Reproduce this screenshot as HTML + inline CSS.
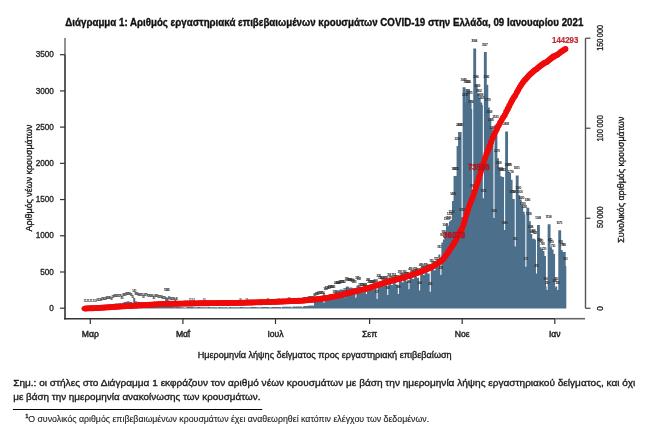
<!DOCTYPE html><html><head><meta charset="utf-8"><style>html,body{margin:0;padding:0;background:#fff}svg{display:block;will-change:transform}text{font-family:"Liberation Sans",sans-serif}</style></head><body><svg width="662" height="435" viewBox="0 0 662 435"><g><rect width="662" height="435" fill="#fff"/><text x="65.3" y="25.5" font-size="10.3" font-weight="bold" fill="#111" textLength="518" lengthAdjust="spacingAndGlyphs" stroke="#111" stroke-width="0.35">Διάγραμμα 1: Αριθμός εργαστηριακά επιβεβαιωμένων κρουσμάτων COVID-19 στην Ελλάδα, 09 Ιανουαρίου 2021</text><path d="M83.14 308.45V308.13h1.97V308.45zM84.66 308.45V308.13h1.97V308.45zM86.18 308.45V308.06h1.97V308.45zM87.7 308.45V308.13h1.97V308.45zM89.22 308.45V308.06h1.97V308.45zM90.73 308.45V308.13h1.97V308.45zM92.25 308.45V307.98h1.97V308.45zM93.77 308.45V307.98h1.97V308.45zM95.29 308.45V308.06h1.97V308.45zM96.81 308.45V307.48h1.97V308.45zM98.32 308.45V307.33h1.97V308.45zM99.84 308.45V307.11h1.97V308.45zM101.36 308.45V306.39h1.97V308.45zM102.88 308.45V306.03h1.97V308.45zM104.4 308.45V306.17h1.97V308.45zM105.91 308.45V305.66h1.97V308.45zM107.43 308.45V305.3h1.97V308.45zM108.95 308.45V304.94h1.97V308.45zM110.47 308.45V306.03h1.97V308.45zM111.99 308.45V304.22h1.97V308.45zM113.5 308.45V303.85h1.97V308.45zM115.02 308.45V303.49h1.97V308.45zM116.54 308.45V303.49h1.97V308.45zM118.06 308.45V303.13h1.97V308.45zM119.58 308.45V303.13h1.97V308.45zM121.09 308.45V304.94h1.97V308.45zM122.61 308.45V302.41h1.97V308.45zM124.13 308.45V302.04h1.97V308.45zM125.65 308.45V301.68h1.97V308.45zM127.17 308.45V301.32h1.97V308.45zM128.68 308.45V301.68h1.97V308.45zM130.2 308.45V302.04h1.97V308.45zM131.72 308.45V304.22h1.97V308.45zM133.24 308.45V298.06h1.97V308.45zM134.76 308.45V301.32h1.97V308.45zM136.27 308.45V301.68h1.97V308.45zM137.79 308.45V302.04h1.97V308.45zM139.31 308.45V302.41h1.97V308.45zM140.83 308.45V302.77h1.97V308.45zM142.35 308.45V304.58h1.97V308.45zM143.86 308.45V302.41h1.97V308.45zM145.38 308.45V302.77h1.97V308.45zM146.9 308.45V303.13h1.97V308.45zM148.42 308.45V303.13h1.97V308.45zM149.94 308.45V303.49h1.97V308.45zM151.45 308.45V303.85h1.97V308.45zM152.97 308.45V305.3h1.97V308.45zM154.49 308.45V303.49h1.97V308.45zM156.01 308.45V303.85h1.97V308.45zM157.53 308.45V304.22h1.97V308.45zM159.04 308.45V304.58h1.97V308.45zM160.56 308.45V304.58h1.97V308.45zM162.08 308.45V304.94h1.97V308.45zM163.6 308.45V305.66h1.97V308.45zM165.12 308.45V297.34h1.97V308.45zM166.63 308.45V297.7h1.97V308.45zM168.15 308.45V305.3h1.97V308.45zM169.67 308.45V306.03h1.97V308.45zM171.19 308.45V306.39h1.97V308.45zM172.71 308.45V306.75h1.97V308.45zM174.22 308.45V307.33h1.97V308.45zM175.74 308.45V306.75h1.97V308.45zM177.26 308.45V306.9h1.97V308.45zM178.78 308.45V307.11h1.97V308.45zM180.3 308.45V307.19h1.97V308.45zM181.81 308.45V307.33h1.97V308.45zM183.33 308.45V307.48h1.97V308.45zM184.85 308.45V307.77h1.97V308.45zM186.37 308.45V307.03h1.97V308.45zM187.89 308.45V307.09h1.97V308.45zM189.4 308.45V307.12h1.97V308.45zM190.92 308.45V307.12h1.97V308.45zM192.44 308.45V307.16h1.97V308.45zM193.96 308.45V307.22h1.97V308.45zM195.48 308.45V307.61h1.97V308.45zM196.99 308.45V307.05h1.97V308.45zM198.51 308.45V307.11h1.97V308.45zM200.03 308.45V307.14h1.97V308.45zM201.55 308.45V307.14h1.97V308.45zM203.07 308.45V307.18h1.97V308.45zM204.58 308.45V307.23h1.97V308.45zM206.1 308.45V307.62h1.97V308.45zM207.62 308.45V307.07h1.97V308.45zM209.14 308.45V307.13h1.97V308.45zM210.66 308.45V307.16h1.97V308.45zM212.17 308.45V307.16h1.97V308.45zM213.69 308.45V307.2h1.97V308.45zM215.21 308.45V307.25h1.97V308.45zM216.73 308.45V307.63h1.97V308.45zM218.25 308.45V307.09h1.97V308.45zM219.76 308.45V307.14h1.97V308.45zM221.28 308.45V307.18h1.97V308.45zM222.8 308.45V307.18h1.97V308.45zM224.32 308.45V307.21h1.97V308.45zM225.84 308.45V307.27h1.97V308.45zM227.35 308.45V307.64h1.97V308.45zM228.87 308.45V307.09h1.97V308.45zM230.39 308.45V307.14h1.97V308.45zM231.91 308.45V307.17h1.97V308.45zM233.43 308.45V307.16h1.97V308.45zM234.94 308.45V307.19h1.97V308.45zM236.46 308.45V307.24h1.97V308.45zM237.98 308.45V307.62h1.97V308.45zM239.5 308.45V307.06h1.97V308.45zM241.02 308.45V307.11h1.97V308.45zM242.53 308.45V307.13h1.97V308.45zM244.05 308.45V307.13h1.97V308.45zM245.57 308.45V307.16h1.97V308.45zM247.09 308.45V307.21h1.97V308.45zM248.61 308.45V307.6h1.97V308.45zM250.12 308.45V307.02h1.97V308.45zM251.64 308.45V307.07h1.97V308.45zM253.16 308.45V307.1h1.97V308.45zM254.68 308.45V307.1h1.97V308.45zM256.2 308.45V307.13h1.97V308.45zM257.71 308.45V307.18h1.97V308.45zM259.23 308.45V307.59h1.97V308.45zM260.75 308.45V306.99h1.97V308.45zM262.27 308.45V307.04h1.97V308.45zM263.79 308.45V307.07h1.97V308.45zM265.3 308.45V307.06h1.97V308.45zM266.82 308.45V307.09h1.97V308.45zM268.34 308.45V307.15h1.97V308.45zM269.86 308.45V307.57h1.97V308.45zM271.38 308.45V306.95h1.97V308.45zM272.89 308.45V307.01h1.97V308.45zM274.41 308.45V307.02h1.97V308.45zM275.93 308.45V306.99h1.97V308.45zM277.45 308.45V307h1.97V308.45zM278.97 308.45V307.04h1.97V308.45zM280.48 308.45V307.49h1.97V308.45zM282 308.45V306.78h1.97V308.45zM283.52 308.45V306.82h1.97V308.45zM285.04 308.45V306.83h1.97V308.45zM286.56 308.45V306.81h1.97V308.45zM288.07 308.45V306.82h1.97V308.45zM289.59 308.45V306.87h1.97V308.45zM291.11 308.45V307.39h1.97V308.45zM292.63 308.45V306.59h1.97V308.45zM294.15 308.45V306.63h1.97V308.45zM295.66 308.45V306.61h1.97V308.45zM297.18 308.45V306.53h1.97V308.45zM298.7 308.45V306.51h1.97V308.45zM300.22 308.45V306.53h1.97V308.45zM301.74 308.45V307.16h1.97V308.45zM303.25 308.45V306.09h1.97V308.45zM304.77 308.45V306.11h1.97V308.45zM306.29 308.45V305.95h1.97V308.45zM307.81 308.45V305.74h1.97V308.45zM309.33 308.45V305.6h1.97V308.45zM310.84 308.45V305.53h1.97V308.45zM312.36 308.45V305.81h1.97V308.45zM313.88 308.45V301.94h1.97V308.45zM315.4 308.45V301.67h1.97V308.45zM316.92 308.45V301.32h1.97V308.45zM318.43 308.45V300.78h1.97V308.45zM319.95 308.45V300.47h1.97V308.45zM321.47 308.45V299.94h1.97V308.45zM322.99 308.45V302.7h1.97V308.45zM324.51 308.45V296.31h1.97V308.45zM326.02 308.45V295.82h1.97V308.45zM327.54 308.45V295.16h1.97V308.45zM329.06 308.45V294.44h1.97V308.45zM330.58 308.45V294.15h1.97V308.45zM332.1 308.45V294.21h1.97V308.45zM333.61 308.45V299.44h1.97V308.45zM335.13 308.45V290.21h1.97V308.45zM336.65 308.45V290.37h1.97V308.45zM338.17 308.45V290.24h1.97V308.45zM339.69 308.45V289.59h1.97V308.45zM341.2 308.45V289.51h1.97V308.45zM342.72 308.45V289.88h1.97V308.45zM344.24 308.45V297.17h1.97V308.45zM345.76 308.45V286.39h1.97V308.45zM347.73 287.26V286.39h0.9V287.26zM347.28 308.45V287.26h1.97V308.45zM348.79 308.45V287.74h1.97V308.45zM350.31 308.45V287.6h1.97V308.45zM351.83 308.45V288.09h1.97V308.45zM353.35 308.45V289h1.97V308.45zM354.87 308.45V297.77h1.97V308.45zM356.38 308.45V285.4h1.97V308.45zM358.35 286.35V285.4h0.9V286.35zM357.9 308.45V286.35h1.97V308.45zM359.87 292.1V286.35h0.9V292.1zM359.42 308.45V292.1h1.97V308.45zM360.94 308.45V292.74h1.97V308.45zM362.46 308.45V292.37h1.97V308.45zM363.97 308.45V292.01h1.97V308.45zM365.49 308.45V294h1.97V308.45zM367.01 308.45V287.28h1.97V308.45zM368.53 308.45V288.92h1.97V308.45zM370.05 308.45V289.43h1.97V308.45zM371.56 308.45V289.88h1.97V308.45zM373.08 308.45V289.34h1.97V308.45zM374.6 308.45V288.79h1.97V308.45zM376.12 308.45V299h1.97V308.45zM377.64 308.45V283.7h1.97V308.45zM379.6 285.15V283.7h0.9V285.15zM379.15 308.45V285.15h1.97V308.45zM381.12 285.6V285.15h0.9V285.6zM380.67 308.45V285.6h1.97V308.45zM382.64 286.06V285.6h0.9V286.06zM382.19 308.45V286.06h1.97V308.45zM383.71 308.45V285.51h1.97V308.45zM385.23 308.45V285.1h1.97V308.45zM386.74 308.45V295.02h1.97V308.45zM388.26 308.45V282.55h1.97V308.45zM390.23 284.98V282.55h0.9V284.98zM389.78 308.45V284.98h1.97V308.45zM391.75 285.61V284.98h0.9V285.61zM391.3 308.45V285.61h1.97V308.45zM392.82 308.45V282.73h1.97V308.45zM394.78 284.86V282.73h0.9V284.86zM394.33 308.45V284.86h1.97V308.45zM395.85 308.45V284.48h1.97V308.45zM397.37 308.45V294h1.97V308.45zM398.89 308.45V279.87h1.97V308.45zM400.86 282.21V279.87h0.9V282.21zM400.41 308.45V282.21h1.97V308.45zM402.37 282.75V282.21h0.9V282.75zM401.92 308.45V282.75h1.97V308.45zM403.44 308.45V279.79h1.97V308.45zM405.41 281.83V279.79h0.9V281.83zM404.96 308.45V281.83h1.97V308.45zM406.48 308.45V281.36h1.97V308.45zM408 308.45V289.37h1.97V308.45zM409.51 308.45V276.64h1.97V308.45zM411.48 278.98V276.64h0.9V278.98zM411.03 308.45V278.98h1.97V308.45zM413 279.45V278.98h0.9V279.45zM412.55 308.45V279.45h1.97V308.45zM414.07 308.45V276.38h1.97V308.45zM416.04 278.3V276.38h0.9V278.3zM415.59 308.45V278.3h1.97V308.45zM417.1 308.45V277.73h1.97V308.45zM418.62 308.45V290.53h1.97V308.45zM420.14 308.45V272.79h1.97V308.45zM422.11 275.02V272.79h0.9V275.02zM421.66 308.45V275.02h1.97V308.45zM423.63 275.44V275.02h0.9V275.44zM423.18 308.45V275.44h1.97V308.45zM424.69 308.45V272.37h1.97V308.45zM426.66 274.22V272.37h0.9V274.22zM426.21 308.45V274.22h1.97V308.45zM427.73 308.45V273.5h1.97V308.45zM429.25 308.45V291.69h1.97V308.45zM430.77 308.45V268.27h1.97V308.45zM432.73 270.35V268.27h0.9V270.35zM432.28 308.45V270.35h1.97V308.45zM434.25 270.44V270.35h0.9V270.44zM433.8 308.45V270.44h1.97V308.45zM435.32 308.45V266.85h1.97V308.45zM437.29 268.27V266.85h0.9V268.27zM436.84 308.45V268.27h1.97V308.45zM438.36 308.45V254.38h1.97V308.45zM439.87 308.45V275.03h1.97V308.45zM441.39 308.45V242.58h1.97V308.45zM442.91 308.45V239.39h1.97V308.45zM444.43 308.45V232.29h1.97V308.45zM445.95 308.45V225.99h1.97V308.45zM447.46 308.45V225.7h1.97V308.45zM448.98 308.45V221.28h1.97V308.45zM450.5 308.45V219.69h1.97V308.45zM452.02 308.45V201h1.97V308.45zM453.54 308.45V176.02h1.97V308.45zM455.05 308.45V176.02h1.97V308.45zM456.57 308.45V146.1h1.97V308.45zM458.09 308.45V131.98h1.97V308.45zM459.61 308.45V131.98h1.97V308.45zM461.13 308.45V217.23h1.97V308.45zM462.64 308.45V87.36h1.97V308.45zM464.61 102.57V87.36h0.9V102.57zM464.16 308.45V102.57h1.97V308.45zM465.68 308.45V89.03h1.97V308.45zM467.2 308.45V89.03h1.97V308.45zM469.17 99.96V89.03h0.9V99.96zM468.72 308.45V99.96h1.97V308.45zM470.68 109.02V99.96h0.9V109.02zM470.23 308.45V109.02h1.97V308.45zM471.75 308.45V193.04h1.97V308.45zM473.27 308.45V48.61h1.97V308.45zM475.24 84.68V48.61h0.9V84.68zM474.79 308.45V84.68h1.97V308.45zM476.76 93.88V84.68h0.9V93.88zM476.31 308.45V93.88h1.97V308.45zM478.27 98.01V93.88h0.9V98.01zM477.82 308.45V98.01h1.97V308.45zM479.79 102.57V98.01h0.9V102.57zM479.34 308.45V102.57h1.97V308.45zM481.31 105.03V102.57h0.9V105.03zM480.86 308.45V105.03h1.97V308.45zM482.38 308.45V198.18h1.97V308.45zM483.9 308.45V52.02h1.97V308.45zM485.86 84.68V52.02h0.9V84.68zM485.41 308.45V84.68h1.97V308.45zM487.38 107.57V84.68h0.9V107.57zM486.93 308.45V107.57h1.97V308.45zM488.9 119.23V107.57h0.9V119.23zM488.45 308.45V119.23h1.97V308.45zM490.42 127.49V119.23h0.9V127.49zM489.97 308.45V127.49h1.97V308.45zM491.94 135.02V127.49h0.9V135.02zM491.49 308.45V135.02h1.97V308.45zM493 308.45V218.02h1.97V308.45zM494.52 308.45V124.73h1.97V308.45zM496.49 158.27V124.73h0.9V158.27zM496.04 308.45V158.27h1.97V308.45zM498.01 170V158.27h0.9V170zM497.56 308.45V170h1.97V308.45zM499.53 176.23V170h0.9V176.23zM499.08 308.45V176.23h1.97V308.45zM501.04 177.03V176.23h0.9V177.03zM500.59 308.45V177.03h1.97V308.45zM502.11 308.45V177.03h1.97V308.45zM503.63 308.45V229.98h1.97V308.45zM505.15 308.45V131.62h1.97V308.45zM507.12 172.1V131.62h0.9V172.1zM506.67 308.45V172.1h1.97V308.45zM508.63 172.76V172.1h0.9V172.76zM508.18 308.45V172.76h1.97V308.45zM510.15 179.71V172.76h0.9V179.71zM509.7 308.45V179.71h1.97V308.45zM511.67 198.98V179.71h0.9V198.98zM511.22 308.45V198.98h1.97V308.45zM512.74 308.45V198.98h1.97V308.45zM514.26 308.45V246.42h1.97V308.45zM515.77 308.45V175.58h1.97V308.45zM517.74 195.21V175.58h0.9V195.21zM517.29 308.45V195.21h1.97V308.45zM519.26 199.56V195.21h0.9V199.56zM518.81 308.45V199.56h1.97V308.45zM520.78 205.35V199.56h0.9V205.35zM520.33 308.45V205.35h1.97V308.45zM522.3 211.87V205.35h0.9V211.87zM521.85 308.45V211.87h1.97V308.45zM523.81 214.69V211.87h0.9V214.69zM523.36 308.45V214.69h1.97V308.45zM524.88 308.45V266.7h1.97V308.45zM526.4 308.45V207.81h1.97V308.45zM528.37 221.28V207.81h0.9V221.28zM527.92 308.45V221.28h1.97V308.45zM529.89 234.03V221.28h0.9V234.03zM529.44 308.45V234.03h1.97V308.45zM531.4 239.54V234.03h0.9V239.54zM530.95 308.45V239.54h1.97V308.45zM532.47 308.45V238.81h1.97V308.45zM534.44 239.97V238.81h0.9V239.97zM533.99 308.45V239.97h1.97V308.45zM535.51 308.45V273.58h1.97V308.45zM537.03 308.45V224.98h1.97V308.45zM538.99 247.36V224.98h0.9V247.36zM538.54 308.45V247.36h1.97V308.45zM540.51 248.81V247.36h0.9V248.81zM540.06 308.45V248.81h1.97V308.45zM542.03 250.98V248.81h0.9V250.98zM541.58 308.45V250.98h1.97V308.45zM543.55 256.05V250.98h0.9V256.05zM543.1 308.45V256.05h1.97V308.45zM545.07 286.47V256.05h0.9V286.47zM544.62 308.45V286.47h1.97V308.45zM546.13 308.45V290.09h1.97V308.45zM547.65 308.45V224.33h1.97V308.45zM549.62 247.36V224.33h0.9V247.36zM549.17 308.45V247.36h1.97V308.45zM551.14 249.53V247.36h0.9V249.53zM550.69 308.45V249.53h1.97V308.45zM552.66 253.88V249.53h0.9V253.88zM552.21 308.45V253.88h1.97V308.45zM554.17 287.92V253.88h0.9V287.92zM553.72 308.45V287.92h1.97V308.45zM555.24 308.45V286.47h1.97V308.45zM556.76 308.45V290.09h1.97V308.45zM558.28 308.45V230.34h1.97V308.45zM560.25 249.89V230.34h0.9V249.89zM559.8 308.45V249.89h1.97V308.45zM561.76 251.99V249.89h0.9V251.99zM561.31 308.45V251.99h1.97V308.45zM562.83 308.45V251.99h1.97V308.45zM564.8 265.97V251.99h0.9V265.97zM564.35 308.45V265.97h1.97V308.45z" fill="#4c708c"/><g font-size="3.5" font-weight="bold" fill="#333" text-anchor="middle" lengthAdjust="spacingAndGlyphs"><text x="84.13" y="301.73" textLength="1.55" fill="#4a4a4a">1</text><text x="85.65" y="301.73" textLength="1.55" fill="#4a4a4a">1</text><text x="87.16" y="301.66" textLength="1.55" fill="#4a4a4a">2</text><text x="88.68" y="301.73" textLength="1.55" fill="#4a4a4a">1</text><text x="90.2" y="301.66" textLength="1.55" fill="#4a4a4a">2</text><text x="91.72" y="301.73" textLength="1.55" fill="#4a4a4a">1</text><text x="93.24" y="301.58" textLength="1.55" fill="#4a4a4a">3</text><text x="94.75" y="301.58" textLength="1.55" fill="#4a4a4a">3</text><text x="96.27" y="301.66" textLength="1.55" fill="#4a4a4a">2</text><text x="97.79" y="301.08" textLength="3.1" fill="#4a4a4a">10</text><text x="99.31" y="300.93" textLength="3.1" fill="#4a4a4a">12</text><text x="100.83" y="300.71" textLength="3.1" fill="#4a4a4a">15</text><text x="102.34" y="299.99" textLength="3.1" fill="#4a4a4a">25</text><text x="103.86" y="299.63" textLength="3.1" fill="#4a4a4a">30</text><text x="105.38" y="299.77" textLength="3.1" fill="#4a4a4a">28</text><text x="106.9" y="299.26" textLength="3.1" fill="#4a4a4a">35</text><text x="108.42" y="298.9" textLength="3.1" fill="#4a4a4a">40</text><text x="109.93" y="298.54" textLength="3.1" fill="#4a4a4a">45</text><text x="111.45" y="299.63" textLength="3.1" fill="#4a4a4a">30</text><text x="112.97" y="297.82" textLength="3.1" fill="#4a4a4a">55</text><text x="114.49" y="297.45" textLength="3.1" fill="#4a4a4a">60</text><text x="116.01" y="297.09" textLength="3.1" fill="#4a4a4a">65</text><text x="117.52" y="297.09" textLength="3.1" fill="#4a4a4a">65</text><text x="119.04" y="296.73" textLength="3.1" fill="#4a4a4a">70</text><text x="120.56" y="296.73" textLength="3.1" fill="#4a4a4a">70</text><text x="122.08" y="298.54" textLength="3.1" fill="#4a4a4a">45</text><text x="123.6" y="296.01" textLength="3.1" fill="#4a4a4a">80</text><text x="125.11" y="295.64" textLength="3.1" fill="#4a4a4a">85</text><text x="126.63" y="295.28" textLength="3.1" fill="#4a4a4a">90</text><text x="128.15" y="294.92" textLength="3.1" fill="#4a4a4a">95</text><text x="129.67" y="295.28" textLength="3.1" fill="#4a4a4a">90</text><text x="131.19" y="295.64" textLength="3.1" fill="#4a4a4a">85</text><text x="132.7" y="297.82" textLength="3.1" fill="#4a4a4a">55</text><text x="134.22" y="291.66" textLength="4.65" fill="#4a4a4a">140</text><text x="135.74" y="294.92" textLength="3.1" fill="#4a4a4a">95</text><text x="137.26" y="295.28" textLength="3.1" fill="#4a4a4a">90</text><text x="138.78" y="295.64" textLength="3.1" fill="#4a4a4a">85</text><text x="140.29" y="296.01" textLength="3.1" fill="#4a4a4a">80</text><text x="141.81" y="296.37" textLength="3.1" fill="#4a4a4a">75</text><text x="143.33" y="298.18" textLength="3.1" fill="#4a4a4a">50</text><text x="144.85" y="296.01" textLength="3.1" fill="#4a4a4a">80</text><text x="146.37" y="296.37" textLength="3.1" fill="#4a4a4a">75</text><text x="147.88" y="296.73" textLength="3.1" fill="#4a4a4a">70</text><text x="149.4" y="296.73" textLength="3.1" fill="#4a4a4a">70</text><text x="150.92" y="297.09" textLength="3.1" fill="#4a4a4a">65</text><text x="152.44" y="297.45" textLength="3.1" fill="#4a4a4a">60</text><text x="153.96" y="298.9" textLength="3.1" fill="#4a4a4a">40</text><text x="155.47" y="297.09" textLength="3.1" fill="#4a4a4a">65</text><text x="156.99" y="297.45" textLength="3.1" fill="#4a4a4a">60</text><text x="158.51" y="297.82" textLength="3.1" fill="#4a4a4a">55</text><text x="160.03" y="298.18" textLength="3.1" fill="#4a4a4a">50</text><text x="161.55" y="298.18" textLength="3.1" fill="#4a4a4a">50</text><text x="163.06" y="298.54" textLength="3.1" fill="#4a4a4a">45</text><text x="164.58" y="299.26" textLength="3.1" fill="#4a4a4a">35</text><text x="166.1" y="290.94" textLength="4.65" fill="#4a4a4a">150</text><text x="167.62" y="291.3" textLength="4.65" fill="#4a4a4a">145</text><text x="169.14" y="298.9" textLength="3.1" fill="#4a4a4a">40</text><text x="170.65" y="299.63" textLength="3.1" fill="#4a4a4a">30</text><text x="172.17" y="299.99" textLength="3.1" fill="#4a4a4a">25</text><text x="173.69" y="300.35" textLength="3.1" fill="#4a4a4a">20</text><text x="175.21" y="300.93" textLength="3.1" fill="#4a4a4a">12</text><text x="176.73" y="300.35" textLength="3.1" fill="#4a4a4a">20</text><text x="190.39" y="300.72" textLength="3.1" fill="#666">15</text><text x="193.42" y="300.76" textLength="3.1" fill="#666">14</text><text x="204.05" y="300.78" textLength="3.1" fill="#666">14</text><text x="240.48" y="300.66" textLength="3.1" fill="#666">16</text><text x="246.55" y="300.76" textLength="3.1" fill="#666">14</text><text x="267.81" y="300.69" textLength="3.1" fill="#666">15</text><text x="278.43" y="300.6" textLength="3.1" fill="#666">17</text><text x="289.06" y="300.42" textLength="3.1" fill="#666">19</text><text x="304.24" y="299.69" textLength="3.1">29</text><text x="305.76" y="299.71" textLength="3.1">29</text><text x="307.27" y="299.55" textLength="3.1">31</text><text x="308.79" y="299.34" textLength="3.1">34</text><text x="310.31" y="299.2" textLength="3.1">36</text><text x="311.83" y="299.13" textLength="3.1">37</text><text x="313.35" y="299.41" textLength="3.1">33</text><text x="314.86" y="295.54" textLength="3.1">86</text><text x="316.38" y="295.27" textLength="3.1">90</text><text x="317.9" y="294.92" textLength="3.1">95</text><text x="319.42" y="294.38" textLength="4.65">102</text><text x="320.94" y="294.07" textLength="4.65">107</text><text x="322.45" y="293.54" textLength="4.65">114</text><text x="323.97" y="296.3" textLength="3.1">76</text><text x="325.49" y="289.91" textLength="4.65">164</text><text x="327.01" y="289.42" textLength="4.65">171</text><text x="328.53" y="288.76" textLength="4.65">180</text><text x="330.04" y="288.04" textLength="4.65">190</text><text x="331.56" y="287.75" textLength="4.65">194</text><text x="333.08" y="287.81" textLength="4.65">193</text><text x="334.6" y="293.04" textLength="4.65">121</text><text x="336.12" y="283.81" textLength="4.65">248</text><text x="337.63" y="283.97" textLength="4.65">246</text><text x="339.15" y="283.84" textLength="4.65">248</text><text x="340.67" y="283.19" textLength="4.65">257</text><text x="342.19" y="283.11" textLength="4.65">258</text><text x="343.71" y="283.48" textLength="4.65">253</text><text x="345.22" y="290.77" textLength="4.65">152</text><text x="346.74" y="279.99" textLength="4.65">301</text><text x="348.26" y="280.86" textLength="4.65">289</text><text x="349.78" y="281.34" textLength="4.65">282</text><text x="351.3" y="281.2" textLength="4.65">284</text><text x="352.81" y="281.69" textLength="4.65">278</text><text x="354.33" y="282.6" textLength="4.65">265</text><text x="355.85" y="291.37" textLength="4.65">144</text><text x="357.37" y="279" textLength="4.65">315</text><text x="358.89" y="279.95" textLength="4.65">302</text><text x="360.4" y="285.7" textLength="4.65">222</text><text x="361.92" y="286.34" textLength="4.65">213</text><text x="363.44" y="285.97" textLength="4.65">218</text><text x="364.96" y="285.61" textLength="4.65">224</text><text x="366.48" y="287.6" textLength="4.65">196</text><text x="367.99" y="280.88" textLength="4.65">289</text><text x="369.51" y="282.52" textLength="4.65">266</text><text x="371.03" y="283.03" textLength="4.65">259</text><text x="372.55" y="283.48" textLength="4.65">253</text><text x="374.07" y="282.94" textLength="4.65">260</text><text x="375.58" y="282.39" textLength="4.65">268</text><text x="377.1" y="292.6" textLength="4.65">127</text><text x="378.62" y="277.3" textLength="4.65">338</text><text x="380.14" y="278.75" textLength="4.65">318</text><text x="381.66" y="279.2" textLength="4.65">312</text><text x="383.17" y="279.66" textLength="4.65">306</text><text x="384.69" y="279.11" textLength="4.65">313</text><text x="386.21" y="278.7" textLength="4.65">319</text><text x="387.73" y="288.62" textLength="4.65">182</text><text x="389.25" y="276.15" textLength="4.65">354</text><text x="390.76" y="278.58" textLength="4.65">321</text><text x="392.28" y="279.21" textLength="4.65">312</text><text x="393.8" y="276.33" textLength="4.65">352</text><text x="395.32" y="278.46" textLength="4.65">322</text><text x="396.84" y="278.08" textLength="4.65">327</text><text x="398.35" y="287.6" textLength="4.65">196</text><text x="399.87" y="273.47" textLength="4.65">391</text><text x="401.39" y="275.81" textLength="4.65">359</text><text x="402.91" y="276.35" textLength="4.65">351</text><text x="404.43" y="273.39" textLength="4.65">392</text><text x="405.94" y="275.43" textLength="4.65">364</text><text x="407.46" y="274.96" textLength="4.65">371</text><text x="408.98" y="282.97" textLength="4.65">260</text><text x="410.5" y="270.24" textLength="4.65">436</text><text x="412.02" y="272.58" textLength="4.65">403</text><text x="413.53" y="273.05" textLength="4.65">397</text><text x="415.05" y="269.98" textLength="4.65">439</text><text x="416.57" y="271.9" textLength="4.65">413</text><text x="418.09" y="271.33" textLength="4.65">421</text><text x="419.61" y="284.13" textLength="4.65">244</text><text x="421.12" y="266.39" textLength="4.65">489</text><text x="422.64" y="268.62" textLength="4.65">458</text><text x="424.16" y="269.04" textLength="4.65">452</text><text x="425.68" y="265.97" textLength="4.65">495</text><text x="427.2" y="267.82" textLength="4.65">469</text><text x="428.71" y="267.1" textLength="4.65">479</text><text x="430.23" y="285.29" textLength="4.65">228</text><text x="431.75" y="261.87" textLength="4.65">551</text><text x="433.27" y="263.95" textLength="4.65">523</text><text x="434.79" y="264.04" textLength="4.65">521</text><text x="436.3" y="260.45" textLength="4.65">571</text><text x="437.82" y="261.87" textLength="4.65">551</text><text x="439.34" y="247.98" textLength="4.65">743</text><text x="440.86" y="268.63" textLength="4.65">458</text><text x="442.38" y="236.18" textLength="4.65">906</text><text x="443.89" y="232.99" textLength="4.65">950</text><text x="445.41" y="225.89" textLength="6.2">1048</text><text x="446.93" y="219.59" textLength="6.2">1135</text><text x="448.45" y="219.3" textLength="6.2">1139</text><text x="449.97" y="214.88" textLength="6.2">1200</text><text x="451.48" y="213.29" textLength="6.2">1222</text><text x="453" y="194.6" textLength="6.2">1480</text><text x="454.52" y="169.62" textLength="6.2">1825</text><text x="456.04" y="169.62" textLength="6.2">1825</text><text x="457.56" y="139.7" textLength="6.2">2238</text><text x="459.07" y="125.58" textLength="6.2">2433</text><text x="460.59" y="125.58" textLength="6.2">2433</text><text x="462.11" y="210.83" textLength="6.2">1256</text><text x="463.63" y="80.96" textLength="6.2">3049</text><text x="465.15" y="96.17" textLength="6.2">2839</text><text x="466.66" y="82.63" textLength="6.2">3026</text><text x="468.18" y="82.63" textLength="6.2">3026</text><text x="469.7" y="93.56" textLength="6.2">2875</text><text x="471.22" y="102.62" textLength="6.2">2750</text><text x="472.74" y="186.64" textLength="6.2">1590</text><text x="474.25" y="42.21" textLength="6.2">3584</text><text x="475.77" y="78.28" textLength="6.2">3086</text><text x="477.29" y="87.48" textLength="6.2">2959</text><text x="478.81" y="91.61" textLength="6.2">2902</text><text x="480.33" y="96.17" textLength="6.2">2839</text><text x="481.84" y="98.63" textLength="6.2">2805</text><text x="483.36" y="191.78" textLength="6.2">1519</text><text x="484.88" y="45.62" textLength="6.2">3537</text><text x="486.4" y="78.28" textLength="6.2">3086</text><text x="487.92" y="101.17" textLength="6.2">2770</text><text x="489.43" y="112.83" textLength="6.2">2609</text><text x="490.95" y="121.09" textLength="6.2">2495</text><text x="492.47" y="128.62" textLength="6.2">2391</text><text x="493.99" y="211.62" textLength="6.2">1245</text><text x="495.51" y="118.33" textLength="6.2">2533</text><text x="497.02" y="151.87" textLength="6.2">2070</text><text x="498.54" y="163.6" textLength="6.2">1908</text><text x="500.06" y="169.83" textLength="6.2">1822</text><text x="501.58" y="170.63" textLength="6.2">1811</text><text x="503.1" y="170.63" textLength="6.2">1811</text><text x="504.61" y="223.58" textLength="6.2">1080</text><text x="506.13" y="125.22" textLength="6.2">2438</text><text x="507.65" y="165.7" textLength="6.2">1879</text><text x="509.17" y="166.36" textLength="6.2">1870</text><text x="510.69" y="173.31" textLength="6.2">1774</text><text x="512.2" y="192.58" textLength="6.2">1508</text><text x="513.72" y="192.58" textLength="6.2">1508</text><text x="515.24" y="240.02" textLength="4.65">853</text><text x="516.76" y="169.18" textLength="6.2">1831</text><text x="518.28" y="188.81" textLength="6.2">1560</text><text x="519.79" y="193.16" textLength="6.2">1500</text><text x="521.31" y="198.95" textLength="6.2">1420</text><text x="522.83" y="205.47" textLength="6.2">1330</text><text x="524.35" y="208.29" textLength="6.2">1291</text><text x="525.87" y="260.3" textLength="4.65">573</text><text x="527.38" y="201.41" textLength="6.2">1386</text><text x="528.9" y="214.88" textLength="6.2">1200</text><text x="530.42" y="227.63" textLength="6.2">1024</text><text x="531.94" y="233.14" textLength="4.65">948</text><text x="533.46" y="232.41" textLength="4.65">958</text><text x="534.97" y="233.57" textLength="4.65">942</text><text x="536.49" y="267.18" textLength="4.65">478</text><text x="538.01" y="218.58" textLength="6.2">1149</text><text x="539.53" y="240.96" textLength="4.65">840</text><text x="541.05" y="242.41" textLength="4.65">820</text><text x="542.56" y="244.58" textLength="4.65">790</text><text x="544.08" y="249.65" textLength="4.65">720</text><text x="545.6" y="280.07" textLength="4.65">300</text><text x="547.12" y="283.69" textLength="4.65">250</text><text x="548.64" y="217.93" textLength="6.2">1158</text><text x="550.15" y="240.96" textLength="4.65">840</text><text x="551.67" y="243.13" textLength="4.65">810</text><text x="553.19" y="247.48" textLength="4.65">750</text><text x="554.71" y="281.52" textLength="4.65">280</text><text x="556.23" y="280.07" textLength="4.65">300</text><text x="557.74" y="283.69" textLength="4.65">250</text><text x="559.26" y="223.94" textLength="6.2">1075</text><text x="560.78" y="243.49" textLength="4.65">805</text><text x="562.3" y="245.59" textLength="4.65">776</text><text x="563.82" y="245.59" textLength="4.65">776</text><text x="565.33" y="259.57" textLength="4.65">583</text></g><path d="M84 308.6C87.5 308.42 96.5 308 105 307.5C113.5 307 125 306.2 135 305.6C145 305 154.17 304.28 165 303.9C175.83 303.52 187.5 303.48 200 303.3C212.5 303.12 228.33 303.02 240 302.8C251.67 302.58 260 302.33 270 302C280 301.67 292.5 301.22 300 300.8C307.5 300.38 310 300.05 315 299.5C320 298.95 325 298.42 330 297.5C335 296.58 340 295.22 345 294C350 292.78 355.83 291.23 360 290.2C364.17 289.17 365.83 289.1 370 287.8C374.17 286.5 380.2 283.87 385 282.4C389.8 280.93 394.2 280.27 398.8 279C403.4 277.73 408 276.37 412.6 274.8C417.2 273.23 422.83 271.07 426.4 269.6C429.97 268.13 431.33 267.6 434 266C436.67 264.4 440.03 262.27 442.4 260C444.77 257.73 446.08 255.5 448.2 252.4C450.32 249.3 452.65 245.67 455.1 241.4C457.55 237.13 460.95 231.4 462.9 226.8C464.85 222.2 465.68 217.43 466.8 213.8C467.92 210.17 468.65 207.63 469.6 205C470.55 202.37 471.23 201.42 472.5 198C473.77 194.58 475.73 189.05 477.2 184.5C478.67 179.95 479.97 175.2 481.3 170.7C482.63 166.2 483.98 160.95 485.2 157.5C486.42 154.05 487.23 153.52 488.6 150C489.97 146.48 492.03 139.82 493.4 136.4C494.77 132.98 495.65 131.8 496.8 129.5C497.95 127.2 499.03 124.9 500.3 122.6C501.57 120.3 503.13 117.88 504.4 115.7C505.67 113.52 506.75 111.7 507.9 109.5C509.05 107.3 510.17 104.68 511.3 102.5C512.43 100.32 513.6 98.4 514.7 96.4C515.8 94.4 516.83 92.38 517.9 90.5C518.97 88.62 519.92 86.85 521.1 85.1C522.28 83.35 523.65 81.62 525 80C526.35 78.38 527.73 76.87 529.2 75.4C530.67 73.93 532.2 72.53 533.8 71.2C535.4 69.87 537.17 68.6 538.8 67.4C540.43 66.2 541.98 65.08 543.6 64C545.22 62.92 546.92 61.97 548.5 60.9C550.08 59.83 551.57 58.67 553.1 57.6C554.63 56.53 556.35 55.45 557.7 54.5C559.05 53.55 560.13 52.67 561.2 51.9C562.27 51.13 563.37 50.38 564.1 49.9C564.83 49.42 565.35 49.15 565.6 49" fill="none" stroke="#f00a0a" stroke-width="5.2" stroke-linecap="round" stroke-linejoin="round"/><g fill="#f00a0a"><circle cx="85.65" cy="308.51" r="2.95"/><circle cx="87.16" cy="308.42" r="2.95"/><circle cx="88.68" cy="308.36" r="2.95"/><circle cx="90.2" cy="308.28" r="2.95"/><circle cx="91.72" cy="308.24" r="2.95"/><circle cx="93.24" cy="308.18" r="2.95"/><circle cx="94.75" cy="308.13" r="2.95"/><circle cx="96.27" cy="308.08" r="2.95"/><circle cx="97.79" cy="307.98" r="2.95"/><circle cx="99.31" cy="307.86" r="2.95"/><circle cx="100.83" cy="307.72" r="2.95"/><circle cx="102.34" cy="307.65" r="2.95"/><circle cx="103.86" cy="307.57" r="2.95"/><circle cx="105.38" cy="307.49" r="2.95"/><circle cx="106.9" cy="307.39" r="2.95"/><circle cx="108.42" cy="307.29" r="2.95"/><circle cx="109.93" cy="307.18" r="2.95"/><circle cx="111.45" cy="307.09" r="2.95"/><circle cx="112.97" cy="307" r="2.95"/><circle cx="114.49" cy="306.91" r="2.95"/><circle cx="116.01" cy="306.81" r="2.95"/><circle cx="117.52" cy="306.71" r="2.95"/><circle cx="119.04" cy="306.6" r="2.95"/><circle cx="120.56" cy="306.5" r="2.95"/><circle cx="122.08" cy="306.42" r="2.95"/><circle cx="123.6" cy="306.32" r="2.95"/><circle cx="125.11" cy="306.23" r="2.95"/><circle cx="126.63" cy="306.13" r="2.95"/><circle cx="128.15" cy="306.02" r="2.95"/><circle cx="129.67" cy="305.92" r="2.95"/><circle cx="131.19" cy="305.82" r="2.95"/><circle cx="132.7" cy="305.75" r="2.95"/><circle cx="134.22" cy="305.62" r="2.95"/><circle cx="135.74" cy="305.53" r="2.95"/><circle cx="137.26" cy="305.44" r="2.95"/><circle cx="138.78" cy="305.35" r="2.95"/><circle cx="140.29" cy="305.27" r="2.95"/><circle cx="141.81" cy="305.19" r="2.95"/><circle cx="143.33" cy="305.13" r="2.95"/><circle cx="144.85" cy="305.03" r="2.95"/><circle cx="146.37" cy="304.94" r="2.95"/><circle cx="147.88" cy="304.85" r="2.95"/><circle cx="149.4" cy="304.76" r="2.95"/><circle cx="150.92" cy="304.67" r="2.95"/><circle cx="152.44" cy="304.59" r="2.95"/><circle cx="153.96" cy="304.53" r="2.95"/><circle cx="155.47" cy="304.43" r="2.95"/><circle cx="156.99" cy="304.33" r="2.95"/><circle cx="158.51" cy="304.24" r="2.95"/><circle cx="160.03" cy="304.16" r="2.95"/><circle cx="161.55" cy="304.07" r="2.95"/><circle cx="163.06" cy="303.99" r="2.95"/><circle cx="164.58" cy="303.92" r="2.95"/><circle cx="166.1" cy="303.86" r="2.95"/><circle cx="167.62" cy="303.81" r="2.95"/><circle cx="169.14" cy="303.79" r="2.95"/><circle cx="170.65" cy="303.77" r="2.95"/><circle cx="172.17" cy="303.75" r="2.95"/><circle cx="173.69" cy="303.74" r="2.95"/><circle cx="175.21" cy="303.73" r="2.95"/><circle cx="176.73" cy="303.69" r="2.95"/><circle cx="178.24" cy="303.66" r="2.95"/><circle cx="179.76" cy="303.63" r="2.95"/><circle cx="181.28" cy="303.61" r="2.95"/><circle cx="182.8" cy="303.58" r="2.95"/><circle cx="184.32" cy="303.56" r="2.95"/><circle cx="185.83" cy="303.54" r="2.95"/><circle cx="187.35" cy="303.51" r="2.95"/><circle cx="188.87" cy="303.49" r="2.95"/><circle cx="190.39" cy="303.46" r="2.95"/><circle cx="191.91" cy="303.43" r="2.95"/><circle cx="193.42" cy="303.41" r="2.95"/><circle cx="194.94" cy="303.38" r="2.95"/><circle cx="196.46" cy="303.36" r="2.95"/><circle cx="197.98" cy="303.34" r="2.95"/><circle cx="199.5" cy="303.31" r="2.95"/><circle cx="201.01" cy="303.29" r="2.95"/><circle cx="202.53" cy="303.27" r="2.95"/><circle cx="204.05" cy="303.25" r="2.95"/><circle cx="205.57" cy="303.23" r="2.95"/><circle cx="207.09" cy="303.21" r="2.95"/><circle cx="208.6" cy="303.19" r="2.95"/><circle cx="210.12" cy="303.17" r="2.95"/><circle cx="211.64" cy="303.15" r="2.95"/><circle cx="213.16" cy="303.13" r="2.95"/><circle cx="214.68" cy="303.11" r="2.95"/><circle cx="216.19" cy="303.09" r="2.95"/><circle cx="217.71" cy="303.08" r="2.95"/><circle cx="219.23" cy="303.06" r="2.95"/><circle cx="220.75" cy="303.04" r="2.95"/><circle cx="222.27" cy="303.02" r="2.95"/><circle cx="223.78" cy="303" r="2.95"/><circle cx="225.3" cy="302.98" r="2.95"/><circle cx="226.82" cy="302.96" r="2.95"/><circle cx="228.34" cy="302.95" r="2.95"/><circle cx="229.86" cy="302.93" r="2.95"/><circle cx="231.37" cy="302.91" r="2.95"/><circle cx="232.89" cy="302.89" r="2.95"/><circle cx="234.41" cy="302.87" r="2.95"/><circle cx="235.93" cy="302.85" r="2.95"/><circle cx="237.45" cy="302.83" r="2.95"/><circle cx="238.96" cy="302.81" r="2.95"/><circle cx="240.48" cy="302.78" r="2.95"/><circle cx="242" cy="302.74" r="2.95"/><circle cx="243.52" cy="302.69" r="2.95"/><circle cx="245.04" cy="302.65" r="2.95"/><circle cx="246.55" cy="302.61" r="2.95"/><circle cx="248.07" cy="302.57" r="2.95"/><circle cx="249.59" cy="302.54" r="2.95"/><circle cx="251.11" cy="302.5" r="2.95"/><circle cx="252.63" cy="302.46" r="2.95"/><circle cx="254.14" cy="302.42" r="2.95"/><circle cx="255.66" cy="302.37" r="2.95"/><circle cx="257.18" cy="302.33" r="2.95"/><circle cx="258.7" cy="302.29" r="2.95"/><circle cx="260.22" cy="302.26" r="2.95"/><circle cx="261.73" cy="302.22" r="2.95"/><circle cx="263.25" cy="302.17" r="2.95"/><circle cx="264.77" cy="302.13" r="2.95"/><circle cx="266.29" cy="302.09" r="2.95"/><circle cx="267.81" cy="302.04" r="2.95"/><circle cx="269.32" cy="302" r="2.95"/><circle cx="270.84" cy="301.97" r="2.95"/><circle cx="272.36" cy="301.9" r="2.95"/><circle cx="273.88" cy="301.84" r="2.95"/><circle cx="275.4" cy="301.78" r="2.95"/><circle cx="276.91" cy="301.71" r="2.95"/><circle cx="278.43" cy="301.65" r="2.95"/><circle cx="279.95" cy="301.59" r="2.95"/><circle cx="281.47" cy="301.54" r="2.95"/><circle cx="282.99" cy="301.48" r="2.95"/><circle cx="284.5" cy="301.41" r="2.95"/><circle cx="286.02" cy="301.35" r="2.95"/><circle cx="287.54" cy="301.29" r="2.95"/><circle cx="289.06" cy="301.22" r="2.95"/><circle cx="290.58" cy="301.16" r="2.95"/><circle cx="292.09" cy="301.12" r="2.95"/><circle cx="293.61" cy="301.04" r="2.95"/><circle cx="295.13" cy="300.97" r="2.95"/><circle cx="296.65" cy="300.9" r="2.95"/><circle cx="298.17" cy="300.82" r="2.95"/><circle cx="299.68" cy="300.75" r="2.95"/><circle cx="301.2" cy="300.65" r="2.95"/><circle cx="302.72" cy="300.56" r="2.95"/><circle cx="304.24" cy="300.44" r="2.95"/><circle cx="305.76" cy="300.32" r="2.95"/><circle cx="307.27" cy="300.19" r="2.95"/><circle cx="308.79" cy="300.06" r="2.95"/><circle cx="310.31" cy="299.92" r="2.95"/><circle cx="311.83" cy="299.78" r="2.95"/><circle cx="313.35" cy="299.64" r="2.95"/><circle cx="314.86" cy="299.49" r="2.95"/><circle cx="316.38" cy="299.3" r="2.95"/><circle cx="317.9" cy="299.11" r="2.95"/><circle cx="319.42" cy="298.9" r="2.95"/><circle cx="320.94" cy="298.69" r="2.95"/><circle cx="322.45" cy="298.48" r="2.95"/><circle cx="323.97" cy="298.3" r="2.95"/><circle cx="325.49" cy="298.07" r="2.95"/><circle cx="327.01" cy="297.83" r="2.95"/><circle cx="328.53" cy="297.58" r="2.95"/><circle cx="330.04" cy="297.32" r="2.95"/><circle cx="331.56" cy="297" r="2.95"/><circle cx="333.08" cy="296.68" r="2.95"/><circle cx="334.6" cy="296.43" r="2.95"/><circle cx="336.12" cy="296.06" r="2.95"/><circle cx="337.63" cy="295.7" r="2.95"/><circle cx="339.15" cy="295.34" r="2.95"/><circle cx="340.67" cy="294.96" r="2.95"/><circle cx="342.19" cy="294.59" r="2.95"/><circle cx="343.71" cy="294.22" r="2.95"/><circle cx="345.22" cy="293.94" r="2.95"/><circle cx="346.74" cy="293.53" r="2.95"/><circle cx="348.26" cy="293.12" r="2.95"/><circle cx="349.78" cy="292.72" r="2.95"/><circle cx="351.3" cy="292.31" r="2.95"/><circle cx="352.81" cy="291.92" r="2.95"/><circle cx="354.33" cy="291.53" r="2.95"/><circle cx="355.85" cy="291.25" r="2.95"/><circle cx="357.37" cy="290.81" r="2.95"/><circle cx="358.89" cy="290.37" r="2.95"/><circle cx="360.4" cy="290.02" r="2.95"/><circle cx="361.92" cy="289.67" r="2.95"/><circle cx="363.44" cy="289.33" r="2.95"/><circle cx="364.96" cy="288.97" r="2.95"/><circle cx="366.48" cy="288.65" r="2.95"/><circle cx="367.99" cy="288.16" r="2.95"/><circle cx="369.51" cy="287.7" r="2.95"/><circle cx="371.03" cy="287.19" r="2.95"/><circle cx="372.55" cy="286.68" r="2.95"/><circle cx="374.07" cy="286.15" r="2.95"/><circle cx="375.58" cy="285.61" r="2.95"/><circle cx="377.1" cy="285.24" r="2.95"/><circle cx="378.62" cy="284.68" r="2.95"/><circle cx="380.14" cy="284.14" r="2.95"/><circle cx="381.66" cy="283.61" r="2.95"/><circle cx="383.17" cy="283.08" r="2.95"/><circle cx="384.69" cy="282.55" r="2.95"/><circle cx="386.21" cy="282.06" r="2.95"/><circle cx="387.73" cy="281.73" r="2.95"/><circle cx="389.25" cy="281.32" r="2.95"/><circle cx="390.76" cy="280.94" r="2.95"/><circle cx="392.28" cy="280.57" r="2.95"/><circle cx="393.8" cy="280.17" r="2.95"/><circle cx="395.32" cy="279.79" r="2.95"/><circle cx="396.84" cy="279.4" r="2.95"/><circle cx="398.35" cy="279.11" r="2.95"/><circle cx="399.87" cy="278.63" r="2.95"/><circle cx="401.39" cy="278.17" r="2.95"/><circle cx="402.91" cy="277.71" r="2.95"/><circle cx="404.43" cy="277.23" r="2.95"/><circle cx="405.94" cy="276.76" r="2.95"/><circle cx="407.46" cy="276.29" r="2.95"/><circle cx="408.98" cy="275.9" r="2.95"/><circle cx="410.5" cy="275.36" r="2.95"/><circle cx="412.02" cy="274.85" r="2.95"/><circle cx="413.53" cy="274.31" r="2.95"/><circle cx="415.05" cy="273.73" r="2.95"/><circle cx="416.57" cy="273.16" r="2.95"/><circle cx="418.09" cy="272.59" r="2.95"/><circle cx="419.61" cy="272.16" r="2.95"/><circle cx="421.12" cy="271.51" r="2.95"/><circle cx="422.64" cy="270.89" r="2.95"/><circle cx="424.16" cy="270.28" r="2.95"/><circle cx="425.68" cy="269.63" r="2.95"/><circle cx="427.2" cy="268.96" r="2.95"/><circle cx="428.71" cy="268.27" r="2.95"/><circle cx="430.23" cy="267.78" r="2.95"/><circle cx="431.75" cy="266.93" r="2.95"/><circle cx="433.27" cy="266.11" r="2.95"/><circle cx="434.79" cy="265.21" r="2.95"/><circle cx="436.3" cy="264.2" r="2.95"/><circle cx="437.82" cy="263.2" r="2.95"/><circle cx="439.34" cy="262" r="2.95"/><circle cx="440.86" cy="261.1" r="2.95"/><circle cx="442.38" cy="259.67" r="2.95"/><circle cx="443.89" cy="257.84" r="2.95"/><circle cx="445.41" cy="255.89" r="2.95"/><circle cx="446.93" cy="253.84" r="2.95"/><circle cx="448.45" cy="251.77" r="2.95"/><circle cx="449.97" cy="249.48" r="2.95"/><circle cx="451.48" cy="247.16" r="2.95"/><circle cx="453" cy="244.95" r="2.95"/><circle cx="454.52" cy="242.45" r="2.95"/><circle cx="456.04" cy="239.85" r="2.95"/><circle cx="457.56" cy="236.83" r="2.95"/><circle cx="459.07" cy="233.65" r="2.95"/><circle cx="460.59" cy="230.47" r="2.95"/><circle cx="462.11" cy="228.28" r="2.95"/><circle cx="463.63" cy="223.76" r="2.95"/><circle cx="465.15" cy="218.98" r="2.95"/><circle cx="466.66" cy="214.02" r="2.95"/><circle cx="468.18" cy="209.17" r="2.95"/><circle cx="469.7" cy="204.51" r="2.95"/><circle cx="471.22" cy="200.37" r="2.95"/><circle cx="472.74" cy="197.32" r="2.95"/><circle cx="474.25" cy="191.91" r="2.95"/><circle cx="475.77" cy="187.01" r="2.95"/><circle cx="477.29" cy="182.21" r="2.95"/><circle cx="478.81" cy="177.2" r="2.95"/><circle cx="480.33" cy="172.25" r="2.95"/><circle cx="481.84" cy="167.33" r="2.95"/><circle cx="483.36" cy="163.72" r="2.95"/><circle cx="484.88" cy="158.33" r="2.95"/><circle cx="486.4" cy="153.93" r="2.95"/><circle cx="487.92" cy="149.97" r="2.95"/><circle cx="489.43" cy="145.96" r="2.95"/><circle cx="490.95" cy="141.89" r="2.95"/><circle cx="492.47" cy="137.91" r="2.95"/><circle cx="493.99" cy="135.21" r="2.95"/><circle cx="495.51" cy="131.66" r="2.95"/><circle cx="497.02" cy="128.53" r="2.95"/><circle cx="498.54" cy="125.59" r="2.95"/><circle cx="500.06" cy="122.73" r="2.95"/><circle cx="501.58" cy="120.02" r="2.95"/><circle cx="503.1" cy="117.34" r="2.95"/><circle cx="504.61" cy="115.32" r="2.95"/><circle cx="506.13" cy="111.78" r="2.95"/><circle cx="507.65" cy="108.81" r="2.95"/><circle cx="509.17" cy="105.7" r="2.95"/><circle cx="510.69" cy="102.66" r="2.95"/><circle cx="512.2" cy="99.98" r="2.95"/><circle cx="513.72" cy="97.37" r="2.95"/><circle cx="515.24" cy="95.4" r="2.95"/><circle cx="516.76" cy="92.39" r="2.95"/><circle cx="518.28" cy="89.69" r="2.95"/><circle cx="519.79" cy="87.12" r="2.95"/><circle cx="521.31" cy="84.66" r="2.95"/><circle cx="522.83" cy="82.49" r="2.95"/><circle cx="524.35" cy="80.36" r="2.95"/><circle cx="525.87" cy="79.05" r="2.95"/><circle cx="527.38" cy="77.2" r="2.95"/><circle cx="528.9" cy="75.51" r="2.95"/><circle cx="530.42" cy="74.05" r="2.95"/><circle cx="531.94" cy="72.69" r="2.95"/><circle cx="533.46" cy="71.31" r="2.95"/><circle cx="534.97" cy="70.02" r="2.95"/><circle cx="536.49" cy="69.15" r="2.95"/><circle cx="538.01" cy="67.65" r="2.95"/><circle cx="539.53" cy="66.44" r="2.95"/><circle cx="541.05" cy="65.26" r="2.95"/><circle cx="542.56" cy="64.11" r="2.95"/><circle cx="544.08" cy="63.04" r="2.95"/><circle cx="545.6" cy="62.39" r="2.95"/><circle cx="547.12" cy="61.77" r="2.95"/><circle cx="548.64" cy="60.23" r="2.95"/><circle cx="550.15" cy="58.95" r="2.95"/><circle cx="551.67" cy="57.71" r="2.95"/><circle cx="553.19" cy="56.53" r="2.95"/><circle cx="554.71" cy="55.84" r="2.95"/><circle cx="556.23" cy="55.13" r="2.95"/><circle cx="557.74" cy="54.47" r="2.95"/><circle cx="559.26" cy="53.14" r="2.95"/><circle cx="560.78" cy="52.03" r="2.95"/><circle cx="562.3" cy="50.97" r="2.95"/><circle cx="563.82" cy="49.91" r="2.95"/><circle cx="565.33" cy="49.06" r="2.95"/></g><text x="443.1" y="238" font-size="8.3" font-weight="bold" fill="#b5121b" stroke="#b5121b" stroke-width="0.35" textLength="22.1" lengthAdjust="spacingAndGlyphs">36073</text><text x="467.9" y="170.2" font-size="8.3" font-weight="bold" fill="#b5121b" stroke="#b5121b" stroke-width="0.35" textLength="21.7" lengthAdjust="spacingAndGlyphs">73566</text><text x="552" y="42.8" font-size="8.7" font-weight="bold" fill="#c0282e" stroke="#c0282e" stroke-width="0.2" textLength="26.3" lengthAdjust="spacingAndGlyphs">144293</text><line x1="65" y1="38" x2="65" y2="54.6" stroke="#777" stroke-width="1.6"/><line x1="65" y1="54.6" x2="65" y2="319.5" stroke="#333" stroke-width="1.6"/><line x1="60" y1="308.2" x2="65" y2="308.2" stroke="#333" stroke-width="1.2"/><text x="53.9" y="310.8" font-size="8.2" fill="#262626" text-anchor="end" stroke="#262626" stroke-width="0.35">0</text><line x1="60" y1="271.99" x2="65" y2="271.99" stroke="#333" stroke-width="1.2"/><text x="53.9" y="274.59" font-size="8.2" fill="#262626" text-anchor="end" stroke="#262626" stroke-width="0.35">500</text><line x1="60" y1="235.77" x2="65" y2="235.77" stroke="#333" stroke-width="1.2"/><text x="53.9" y="238.37" font-size="8.2" fill="#262626" text-anchor="end" stroke="#262626" stroke-width="0.35">1000</text><line x1="60" y1="199.56" x2="65" y2="199.56" stroke="#333" stroke-width="1.2"/><text x="53.9" y="202.16" font-size="8.2" fill="#262626" text-anchor="end" stroke="#262626" stroke-width="0.35">1500</text><line x1="60" y1="163.34" x2="65" y2="163.34" stroke="#333" stroke-width="1.2"/><text x="53.9" y="165.94" font-size="8.2" fill="#262626" text-anchor="end" stroke="#262626" stroke-width="0.35">2000</text><line x1="60" y1="127.12" x2="65" y2="127.12" stroke="#333" stroke-width="1.2"/><text x="53.9" y="129.72" font-size="8.2" fill="#262626" text-anchor="end" stroke="#262626" stroke-width="0.35">2500</text><line x1="60" y1="90.91" x2="65" y2="90.91" stroke="#333" stroke-width="1.2"/><text x="53.9" y="93.51" font-size="8.2" fill="#262626" text-anchor="end" stroke="#262626" stroke-width="0.35">3000</text><line x1="60" y1="54.7" x2="65" y2="54.7" stroke="#333" stroke-width="1.2"/><text x="53.9" y="57.3" font-size="8.2" fill="#262626" text-anchor="end" stroke="#262626" stroke-width="0.35">3500</text><text transform="translate(31.9,178) rotate(-90)" font-size="8.8" fill="#1c1c1c" text-anchor="middle" textLength="106.8" lengthAdjust="spacingAndGlyphs" stroke="#1c1c1c" stroke-width="0.35">Αριθμός νέων κρουσμάτων</text><line x1="64.2" y1="318.7" x2="555.5" y2="318.7" stroke="#333" stroke-width="1.6"/><line x1="555.5" y1="318.7" x2="585" y2="318.7" stroke="#666" stroke-width="1.6"/><line x1="90.3" y1="318.7" x2="90.3" y2="324" stroke="#333" stroke-width="1.2"/><text x="90.3" y="336.8" font-size="8.6" fill="#262626" stroke="#262626" stroke-width="0.45" text-anchor="middle">Μαρ</text><line x1="182.9" y1="318.7" x2="182.9" y2="324" stroke="#333" stroke-width="1.2"/><text x="182.9" y="336.8" font-size="8.6" fill="#262626" stroke="#262626" stroke-width="0.45" text-anchor="middle">Μαΐ</text><line x1="275.5" y1="318.7" x2="275.5" y2="324" stroke="#333" stroke-width="1.2"/><text x="275.5" y="336.8" font-size="8.6" fill="#262626" stroke="#262626" stroke-width="0.45" text-anchor="middle">Ιουλ</text><line x1="369.6" y1="318.7" x2="369.6" y2="324" stroke="#333" stroke-width="1.2"/><text x="369.6" y="336.8" font-size="8.6" fill="#262626" stroke="#262626" stroke-width="0.45" text-anchor="middle">Σεπ</text><line x1="462.2" y1="318.7" x2="462.2" y2="324" stroke="#333" stroke-width="1.2"/><text x="462.2" y="336.8" font-size="8.6" fill="#262626" stroke="#262626" stroke-width="0.45" text-anchor="middle">Νοε</text><line x1="554.8" y1="318.7" x2="554.8" y2="324" stroke="#333" stroke-width="1.2"/><text x="554.8" y="336.8" font-size="8.6" fill="#262626" stroke="#262626" stroke-width="0.45" text-anchor="middle">Ιαν</text><text x="324.7" y="357.8" font-size="9" fill="#1c1c1c" text-anchor="middle" textLength="254" lengthAdjust="spacingAndGlyphs" stroke="#1c1c1c" stroke-width="0.35">Ημερομηνία λήψης δείγματος προς εργαστηριακή επιβεβαίωση</text><line x1="585.5" y1="38.3" x2="585.5" y2="308.3" stroke="#555" stroke-width="1.4"/><line x1="585.5" y1="308.3" x2="590.5" y2="308.3" stroke="#444" stroke-width="1.2"/><text transform="translate(603.1,308.5) rotate(-90)" font-size="8.2" fill="#262626" text-anchor="middle" stroke="#262626" stroke-width="0.35">0</text><line x1="585.5" y1="218.27" x2="590.5" y2="218.27" stroke="#444" stroke-width="1.2"/><text transform="translate(603.1,217.3) rotate(-90)" font-size="8.2" fill="#262626" text-anchor="middle" textLength="21.5" lengthAdjust="spacingAndGlyphs" stroke="#262626" stroke-width="0.35">50 000</text><line x1="585.5" y1="128.23" x2="590.5" y2="128.23" stroke="#444" stroke-width="1.2"/><text transform="translate(603.1,128.3) rotate(-90)" font-size="8.2" fill="#262626" text-anchor="middle" textLength="26.5" lengthAdjust="spacingAndGlyphs" stroke="#262626" stroke-width="0.35">100 000</text><line x1="585.5" y1="38.2" x2="590.5" y2="38.2" stroke="#444" stroke-width="1.2"/><text transform="translate(603.1,37.9) rotate(-90)" font-size="8.2" fill="#262626" text-anchor="middle" textLength="25.8" lengthAdjust="spacingAndGlyphs" stroke="#262626" stroke-width="0.35">150 000</text><text transform="translate(624.4,179.6) rotate(-90)" font-size="8.8" fill="#1c1c1c" text-anchor="middle" textLength="126.3" lengthAdjust="spacingAndGlyphs" stroke="#1c1c1c" stroke-width="0.35">Συνολικός αριθμός κρουσμάτων</text><text x="13.2" y="386.2" font-size="9.6" fill="#1c1c1c" textLength="622" lengthAdjust="spacingAndGlyphs" stroke="#1c1c1c" stroke-width="0.35">Σημ.:  οι στήλες στο Διάγραμμα 1 εκφράζουν τον αριθμό νέων κρουσμάτων με βάση την ημερομηνία λήψης εργαστηριακού δείγματος, και όχι</text><text x="13.2" y="399.6" font-size="9.6" fill="#1c1c1c" textLength="247.2" lengthAdjust="spacingAndGlyphs" stroke="#1c1c1c" stroke-width="0.35">με βάση την ημερομηνία ανακοίνωσης των κρουσμάτων.</text><line x1="12.9" y1="409.5" x2="262.2" y2="409.5" stroke="#000" stroke-width="1"/><text x="25.3" y="418.2" font-size="6" fill="#1c1c1c" stroke="#1c1c1c" stroke-width="0.35">1</text><text x="28.2" y="422" font-size="8.8" fill="#1c1c1c" stroke="#1c1c1c" stroke-width="0.12" textLength="401" lengthAdjust="spacingAndGlyphs">Ο συνολικός αριθμός επιβεβαιωμένων κρουσμάτων έχει αναθεωρηθεί κατόπιν ελέγχου των δεδομένων.</text></g></svg></body></html>
